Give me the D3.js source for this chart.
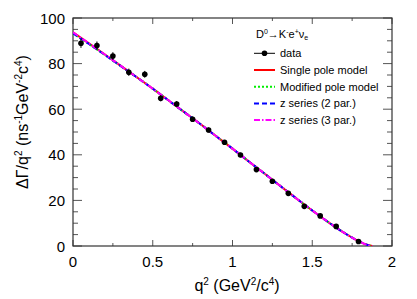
<!DOCTYPE html>
<html><head><meta charset="utf-8">
<script src="https://cdn.jsdelivr.net/npm/d3@7"></script>
<style>body{margin:0;background:#fff}svg{display:block;font-family:"Liberation Sans",Arial,sans-serif}</style>
</head><body>
<svg id="c" width="417" height="299"></svg>
<script>
// data points
const q2 = [0.05,0.15,0.25,0.35,0.45,0.55,0.65,0.75,0.85,0.95,1.05,1.15,1.25,1.35,1.45,1.55,1.65,1.79];
const rate = [88.9,87.9,83.3,76.2,75.3,64.8,62.3,55.6,50.9,45.5,39.9,33.5,28.4,23.1,17.4,13.2,8.6,2.0];
const err = [2.0,1.8,1.7,1.6,1.5,1.4,1.3,1.2,1.1,1.0,1.0,0.9,0.8,0.8,0.7,0.6,0.6,0.4];
// model curves
const curveQ2 = [0,0.1,0.2,0.3,0.4,0.5,0.6,0.7,0.8,0.9,1.0,1.1,1.2,1.3,1.4,1.5,1.6,1.7,1.8,1.85,1.877];
const singlePole = [93.7,88.9,84.0,79.0,74.0,69.0,63.8,58.6,53.4,48.0,42.7,37.2,31.8,26.3,20.9,15.6,10.5,5.8,1.8,0.4,0];
const modPole    = [93.2,88.6,83.8,78.9,74.0,69.0,63.8,58.6,53.4,48.0,42.7,37.2,31.8,26.3,20.9,15.6,10.5,5.8,1.8,0.4,0];
const zSeries2   = [93.3,88.6,83.8,78.9,74.0,69.0,63.8,58.6,53.4,48.0,42.7,37.2,31.8,26.3,20.9,15.6,10.5,5.8,1.8,0.4,0];
const zSeries3   = [93.7,88.9,84.0,79.0,74.0,69.0,63.8,58.6,53.4,48.0,42.7,37.2,31.8,26.3,20.9,15.6,10.5,5.8,1.8,0.4,0];
const xTicks = [0,0.5,1,1.5,2];
const yTicks = [0,20,40,60,80,100];
const legendLabels = ["data","Single pole model","Modified pole model","z series (2 par.)","z series (3 par.)"];

const svg = d3.select("#c");
const L=73,R=392,T=18,B=246;
const x = d3.scaleLinear().domain([0,2]).range([L,R]);
const y = d3.scaleLinear().domain([0,100]).range([B,T]);

const axCol="#555";
// ticks
const xMinor = d3.range(0,2.001,0.25);
const yMinor = d3.range(0,100.1,5);
const tk = svg.append("g").attr("stroke",axCol).attr("stroke-width",1);
xMinor.forEach(v=>{
  const major = Math.abs(v*2-Math.round(v*2))<1e-6;
  const len = major?6:3;
  tk.append("line").attr("x1",x(v)).attr("x2",x(v)).attr("y1",B).attr("y2",B-len);
  tk.append("line").attr("x1",x(v)).attr("x2",x(v)).attr("y1",T).attr("y2",T+len);
});
yMinor.forEach(v=>{
  const major = v%20===0;
  const len = major?9:5;
  tk.append("line").attr("y1",y(v)).attr("y2",y(v)).attr("x1",L).attr("x2",L+len);
  tk.append("line").attr("y1",y(v)).attr("y2",y(v)).attr("x1",R).attr("x2",R-len);
});
// frame
svg.append("rect").attr("x",L).attr("y",T).attr("width",R-L).attr("height",B-T)
  .attr("fill","none").attr("stroke","#333").attr("stroke-width",1.2);

// tick labels
svg.append("g").selectAll("text").data(xTicks).join("text")
  .attr("x",d=>x(d)).attr("y",267).attr("text-anchor","middle").attr("font-size",15)
  .text(d=>d3.format("~g")(d));
svg.append("g").selectAll("text").data(yTicks).join("text")
  .attr("x",65).attr("y",d=>y(d)+5.5).attr("text-anchor","end").attr("font-size",15)
  .text(d=>d);

// axis titles
const xt = svg.append("text").attr("x",237).attr("y",291).attr("text-anchor","middle").attr("font-size",16);
xt.append("tspan").text("q");
xt.append("tspan").attr("font-size",10).attr("dy",-6).text("2");
xt.append("tspan").attr("dy",6).text(" (GeV");
xt.append("tspan").attr("font-size",10).attr("dy",-6).text("2");
xt.append("tspan").attr("dy",6).text("/c");
xt.append("tspan").attr("font-size",10).attr("dy",-6).text("4");
xt.append("tspan").attr("dy",6).text(")");

const yt = svg.append("text").attr("transform","translate(28,122) rotate(-90)").attr("text-anchor","middle").attr("font-size",16);
yt.append("tspan").text("ΔΓ/q");
yt.append("tspan").attr("font-size",10).attr("dy",-6).text("2");
yt.append("tspan").attr("dy",6).text(" (ns");
yt.append("tspan").attr("font-size",10).attr("dy",-6).text("-1");
yt.append("tspan").attr("dy",6).text("GeV");
yt.append("tspan").attr("font-size",10).attr("dy",-6).text("-2");
yt.append("tspan").attr("dy",6).text("c");
yt.append("tspan").attr("font-size",10).attr("dy",-6).text("4");
yt.append("tspan").attr("dy",6).text(")");

// curves
const clip = svg.append("clipPath").attr("id","pc").append("rect").attr("x",L).attr("y",T).attr("width",R-L).attr("height",B-T);
const line = d3.line().x((d,i)=>x(curveQ2[i])).y(d=>y(d)).curve(d3.curveMonotoneX);
const styles = [
  {data:singlePole,color:"#ff0000",dash:null},
  {data:modPole,color:"#00ee00",dash:"2,2"},
  {data:zSeries2,color:"#0000ff",dash:"5,3"},
  {data:zSeries3,color:"#ff00ff",dash:"6,2,1.5,2"}
];
const cg = svg.append("g").attr("clip-path","url(#pc)");
styles.forEach(s=>{
  cg.append("path").attr("d",line(s.data)).attr("fill","none").attr("stroke",s.color)
    .attr("stroke-width",2).attr("stroke-dasharray",s.dash);
});

// data points
const dg = svg.append("g");
q2.forEach((v,i)=>{
  dg.append("line").attr("x1",x(v)).attr("x2",x(v)).attr("y1",y(rate[i]-err[i])).attr("y2",y(rate[i]+err[i]))
    .attr("stroke","#000").attr("stroke-width",1);
  dg.append("circle").attr("cx",x(v)).attr("cy",y(rate[i])).attr("r",2.8).attr("fill","#000");
});

// legend
const lg = svg.append("g").attr("font-size",11);
const t0 = lg.append("text").attr("x",256).attr("y",38);
t0.append("tspan").text("D");
t0.append("tspan").attr("font-size",7).attr("dy",-4).text("0");
t0.append("tspan").attr("dy",4).text("→K");
t0.append("tspan").attr("font-size",7).attr("dy",-4).text("-");
t0.append("tspan").attr("dy",4).text("e");
t0.append("tspan").attr("font-size",7).attr("dy",-4).text("+");
t0.append("tspan").attr("dy",4).text("ν");
t0.append("tspan").attr("font-size",7).attr("dy",2).text("e");
legendLabels.forEach((lab,i)=>{
  const yy = 53.3 + i*16.7;
  if(i===0){
    lg.append("line").attr("x1",254).attr("x2",275).attr("y1",yy).attr("y2",yy).attr("stroke","#000").attr("stroke-width",1);
    lg.append("circle").attr("cx",264.5).attr("cy",yy).attr("r",2.8).attr("fill","#000");
  } else {
    const s = styles[i-1];
    lg.append("line").attr("x1",254).attr("x2",275).attr("y1",yy).attr("y2",yy).attr("stroke",s.color)
      .attr("stroke-width",2).attr("stroke-dasharray",s.dash);
  }
  lg.append("text").attr("x",280).attr("y",yy+4).text(lab);
});
</script>
</body></html>
